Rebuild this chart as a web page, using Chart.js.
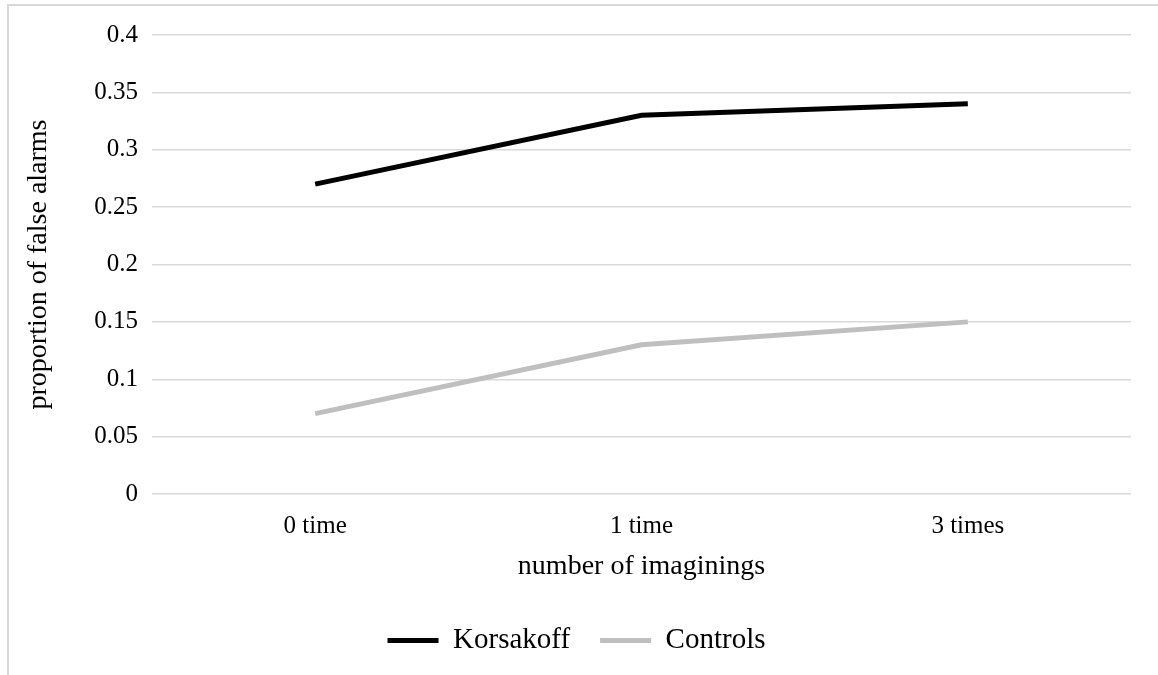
<!DOCTYPE html>
<html>
<head>
<meta charset="utf-8">
<script src="https://cdn.jsdelivr.net/npm/chart.js@4/dist/chart.umd.min.js"></script>
<style>
  html, body { margin: 0; padding: 0; background: #fff; overflow: hidden; }
  #wrap { position: relative; width: 1158px; height: 675px; }
  #frame { position: absolute; left: 7px; top: 4px; width: 1200px; height: 720px; border: 2px solid #d9d9d9; box-sizing: border-box; }
  #myChart { position: absolute; left: 0; top: 0; }
</style>
</head>
<body>
<div id="wrap">
  <div id="frame"></div>
  <canvas id="myChart" width="1158" height="675"></canvas>
</div>
<script>
/* globals Chart:false */

// Data
const categories = ['0 time', '1 time', '3 times']
const korsakoff = [0.27, 0.33, 0.34]
const controls = [0.07, 0.13, 0.15]
const yTicks = { min: 0, max: 0.4, step: 0.05 }

;(() => {
  'use strict'

  const font = 'Liberation Serif'
  const ctx = document.getElementById('myChart')
  // eslint-disable-next-line no-unused-vars
  const myChart = new Chart(ctx, {
    type: 'line',
    data: {
      labels: categories,
      datasets: [{
        label: 'Korsakoff',
        data: korsakoff,
        borderColor: '#000000',
        backgroundColor: '#000000',
        borderWidth: 5,
        pointRadius: 0,
        tension: 0
      },
      {
        label: 'Controls',
        data: controls,
        borderColor: '#bfbfbf',
        backgroundColor: '#bfbfbf',
        borderWidth: 5,
        pointRadius: 0,
        tension: 0
      }]
    },
    options: {
      responsive: false,
      animation: false,
      layout: {
        padding: { left: 22, right: 27, top: 35, bottom: 10 }
      },
      plugins: {
        legend: {
          position: 'bottom',
          labels: {
            color: '#000',
            font: { family: font, size: 29 },
            boxWidth: 51,
            boxHeight: 5,
            padding: 30,
            generateLabels: (chart) => chart.data.datasets.map((ds, i) => ({
              text: ds.label,
              fillStyle: ds.borderColor,
              strokeStyle: ds.borderColor,
              lineWidth: 0,
              fontColor: '#000',
              datasetIndex: i
            }))
          }
        },
        tooltip: { enabled: false }
      },
      scales: {
        x: {
          offset: true,
          grid: { display: false, drawTicks: false },
          border: { display: false },
          ticks: {
            color: '#000',
            padding: 17,
            font: { family: font, size: 25 }
          },
          title: {
            display: true,
            text: 'number of imaginings',
            color: '#000',
            font: { family: font, size: 28 },
            padding: { top: 13, bottom: 13 }
          },
          afterFit: (scale) => { scale.height = 102 }
        },
        y: {
          min: yTicks.min,
          max: yTicks.max,
          grid: { color: '#d9d9d9', lineWidth: 1.5, drawTicks: false },
          border: { display: false },
          ticks: {
            stepSize: yTicks.step,
            color: '#000',
            padding: 14,
            font: { family: font, size: 25 },
            callback: (v) => String(+v.toFixed(2))
          },
          title: {
            display: true,
            text: 'proportion of false alarms',
            color: '#000',
            font: { family: font, size: 28 },
            padding: { top: 0, bottom: 0 }
          },
          afterFit: (scale) => { scale.width = 130 }
        }
      }
    }
  })
})()
</script>
</body>
</html>
